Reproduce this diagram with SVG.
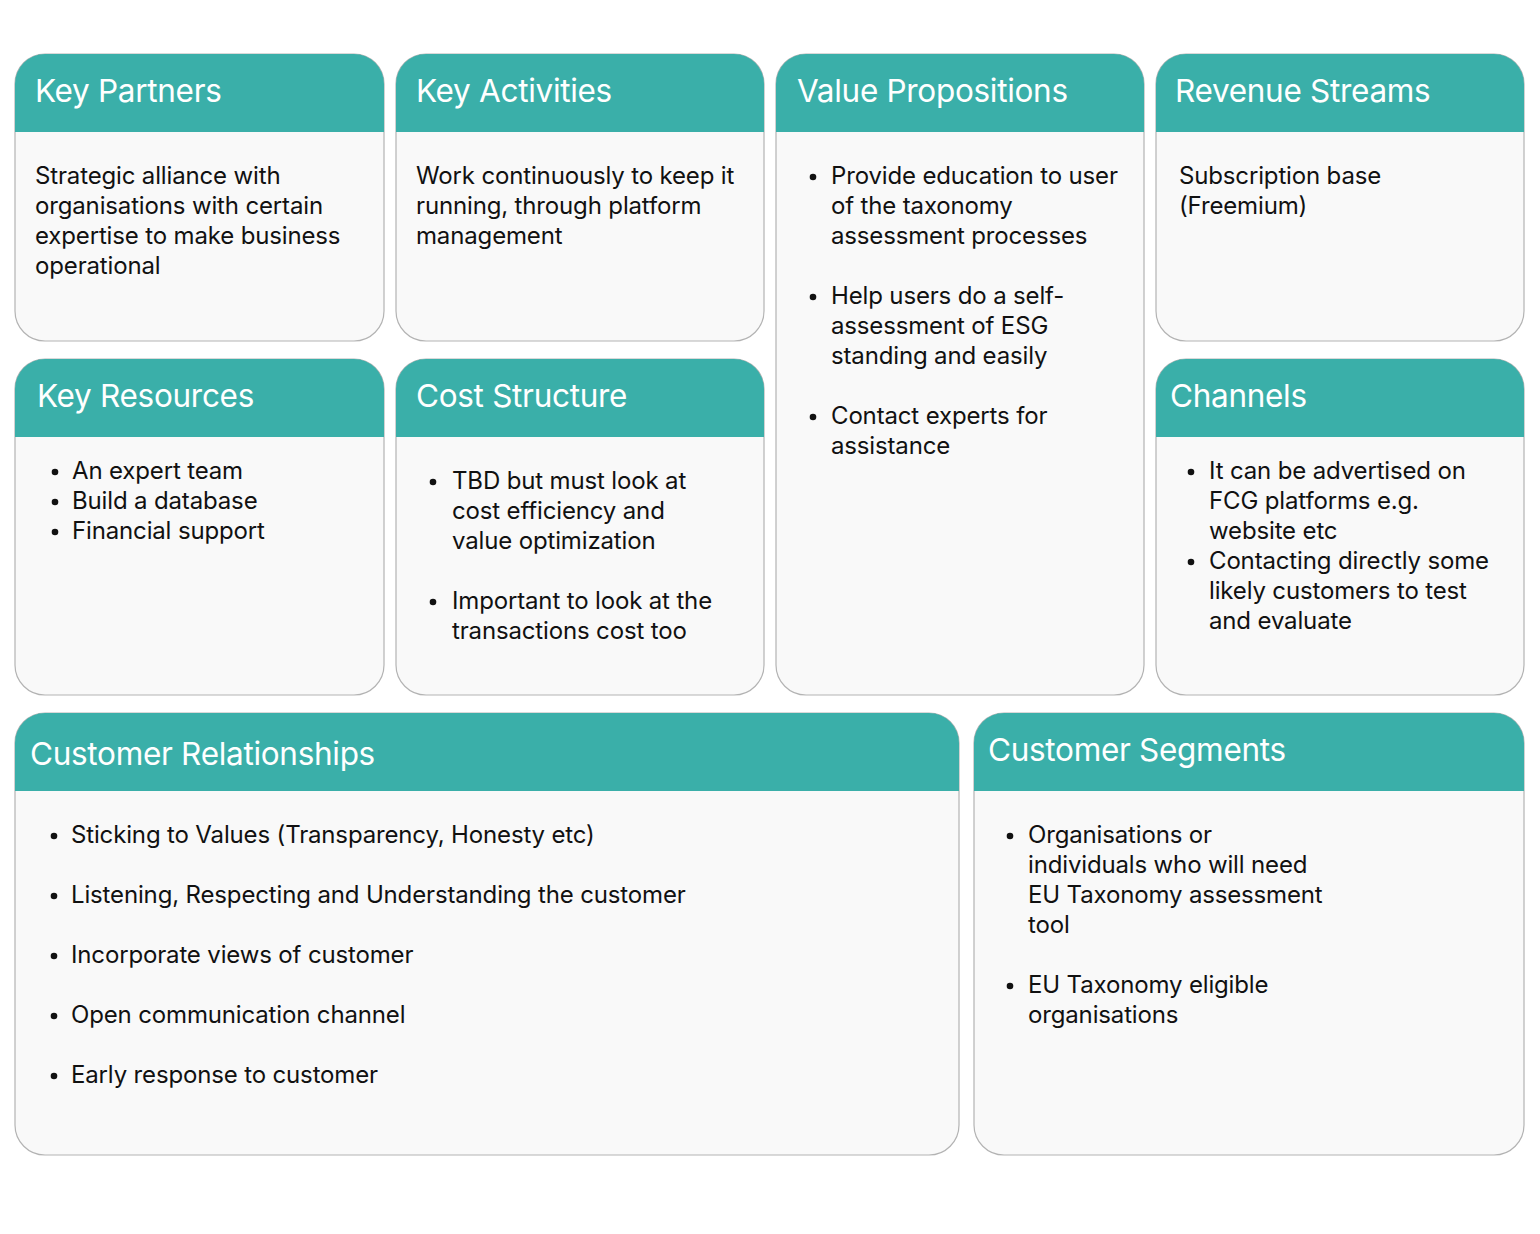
<svg xmlns="http://www.w3.org/2000/svg" width="1540" height="1234" viewBox="0 0 1540 1234">
<style>
.body{fill:#f9f9f9;stroke:#b3b3b3;stroke-width:1.2}
.hd{fill:#3aafa9}
.t{font-family:Inter,"Liberation Sans",sans-serif;font-size:31.5px;fill:#ffffff;letter-spacing:-0.3px}
.x{font-family:Inter,"Liberation Sans",sans-serif;font-size:24px;fill:#111111;letter-spacing:-0.15px}
.b{fill:#111111}
</style>
<rect width="1540" height="1234" fill="#ffffff"/>
<g id="key-partners">
<rect class="body" x="15" y="54" width="369" height="287" rx="30"/>
<path class="hd" d="M15,132 V84 A30,30 0 0 1 45,54 H354 A30,30 0 0 1 384,84 V132 Z"/>
<text class="t" x="35" y="102">Key Partners</text>
<text class="x" x="35" y="184">Strategic alliance with</text>
<text class="x" x="35" y="214">organisations with certain</text>
<text class="x" x="35" y="244">expertise to make business</text>
<text class="x" x="35" y="274">operational</text>
</g>
<g id="key-activities">
<rect class="body" x="396" y="54" width="368" height="287" rx="30"/>
<path class="hd" d="M396,132 V84 A30,30 0 0 1 426,54 H734 A30,30 0 0 1 764,84 V132 Z"/>
<text class="t" x="416" y="102">Key Activities</text>
<text class="x" x="416" y="184">Work continuously to keep it</text>
<text class="x" x="416" y="214">running, through platform</text>
<text class="x" x="416" y="244">management</text>
</g>
<g id="value-propositions">
<rect class="body" x="776" y="54" width="368" height="641" rx="30"/>
<path class="hd" d="M776,132 V84 A30,30 0 0 1 806,54 H1114 A30,30 0 0 1 1144,84 V132 Z"/>
<text class="t" x="797" y="102">Value Propositions</text>
<circle class="b" cx="813" cy="177" r="3.3"/>
<text class="x" x="831" y="184">Provide education to user</text>
<text class="x" x="831" y="214">of the taxonomy</text>
<text class="x" x="831" y="244">assessment processes</text>
<circle class="b" cx="813" cy="297" r="3.3"/>
<text class="x" x="831" y="304">Help users do a self-</text>
<text class="x" x="831" y="334">assessment of ESG</text>
<text class="x" x="831" y="364">standing and easily</text>
<circle class="b" cx="813" cy="417" r="3.3"/>
<text class="x" x="831" y="424">Contact experts for</text>
<text class="x" x="831" y="454">assistance</text>
</g>
<g id="revenue-streams">
<rect class="body" x="1156" y="54" width="368" height="287" rx="30"/>
<path class="hd" d="M1156,132 V84 A30,30 0 0 1 1186,54 H1494 A30,30 0 0 1 1524,84 V132 Z"/>
<text class="t" x="1175" y="102">Revenue Streams</text>
<text class="x" x="1179" y="184">Subscription base</text>
<text class="x" x="1179" y="214">(Freemium)</text>
</g>
<g id="key-resources">
<rect class="body" x="15" y="359" width="369" height="336" rx="30"/>
<path class="hd" d="M15,437 V389 A30,30 0 0 1 45,359 H354 A30,30 0 0 1 384,389 V437 Z"/>
<text class="t" x="37" y="407">Key Resources</text>
<circle class="b" cx="55" cy="472" r="3.3"/>
<text class="x" x="72" y="479">An expert team</text>
<circle class="b" cx="55" cy="502" r="3.3"/>
<text class="x" x="72" y="509">Build a database</text>
<circle class="b" cx="55" cy="532" r="3.3"/>
<text class="x" x="72" y="539">Financial support</text>
</g>
<g id="cost-structure">
<rect class="body" x="396" y="359" width="368" height="336" rx="30"/>
<path class="hd" d="M396,437 V389 A30,30 0 0 1 426,359 H734 A30,30 0 0 1 764,389 V437 Z"/>
<text class="t" x="416" y="407">Cost Structure</text>
<circle class="b" cx="433" cy="482" r="3.3"/>
<text class="x" x="452" y="489">TBD but must look at</text>
<text class="x" x="452" y="519">cost efficiency and</text>
<text class="x" x="452" y="549">value optimization</text>
<circle class="b" cx="433" cy="602" r="3.3"/>
<text class="x" x="452" y="609">Important to look at the</text>
<text class="x" x="452" y="639">transactions cost too</text>
</g>
<g id="channels">
<rect class="body" x="1156" y="359" width="368" height="336" rx="30"/>
<path class="hd" d="M1156,437 V389 A30,30 0 0 1 1186,359 H1494 A30,30 0 0 1 1524,389 V437 Z"/>
<text class="t" x="1170" y="407">Channels</text>
<circle class="b" cx="1191" cy="472" r="3.3"/>
<text class="x" x="1209" y="479">It can be advertised on</text>
<text class="x" x="1209" y="509">FCG platforms e.g.</text>
<text class="x" x="1209" y="539">website etc</text>
<circle class="b" cx="1191" cy="562" r="3.3"/>
<text class="x" x="1209" y="569">Contacting directly some</text>
<text class="x" x="1209" y="599">likely customers to test</text>
<text class="x" x="1209" y="629">and evaluate</text>
</g>
<g id="customer-relationships">
<rect class="body" x="15" y="713" width="944" height="442" rx="30"/>
<path class="hd" d="M15,791 V743 A30,30 0 0 1 45,713 H929 A30,30 0 0 1 959,743 V791 Z"/>
<text class="t" x="30" y="765">Customer Relationships</text>
<circle class="b" cx="54" cy="836" r="3.3"/>
<text class="x" x="71" y="843">Sticking to Values (Transparency, Honesty etc)</text>
<circle class="b" cx="54" cy="896" r="3.3"/>
<text class="x" x="71" y="903">Listening, Respecting and Understanding the customer</text>
<circle class="b" cx="54" cy="956" r="3.3"/>
<text class="x" x="71" y="963">Incorporate views of customer</text>
<circle class="b" cx="54" cy="1016" r="3.3"/>
<text class="x" x="71" y="1023">Open communication channel</text>
<circle class="b" cx="54" cy="1076" r="3.3"/>
<text class="x" x="71" y="1083">Early response to customer</text>
</g>
<g id="customer-segments">
<rect class="body" x="974" y="713" width="550" height="442" rx="30"/>
<path class="hd" d="M974,791 V743 A30,30 0 0 1 1004,713 H1494 A30,30 0 0 1 1524,743 V791 Z"/>
<text class="t" x="988" y="761">Customer Segments</text>
<circle class="b" cx="1010" cy="836" r="3.3"/>
<text class="x" x="1028" y="843">Organisations or</text>
<text class="x" x="1028" y="873">individuals who will need</text>
<text class="x" x="1028" y="903">EU Taxonomy assessment</text>
<text class="x" x="1028" y="933">tool</text>
<circle class="b" cx="1010" cy="986" r="3.3"/>
<text class="x" x="1028" y="993">EU Taxonomy eligible</text>
<text class="x" x="1028" y="1023">organisations</text>
</g>
<g id="connectors"></g>
</svg>
